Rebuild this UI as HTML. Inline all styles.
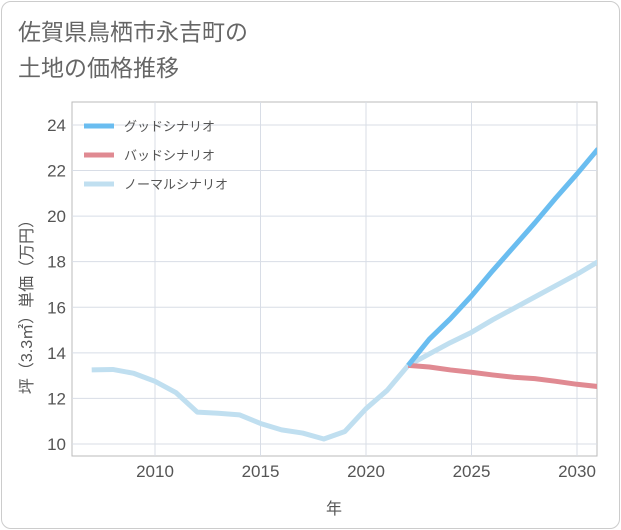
<!DOCTYPE html>
<html><head><meta charset="utf-8">
<style>
body{margin:0;background:#fff;font-family:"Liberation Sans","Noto Sans CJK JP",sans-serif;}
#wrap{position:relative;width:621px;height:530px;}
#frame{position:absolute;left:1px;top:1px;width:617px;height:526px;border:1px solid #ccc;border-radius:10px;}
#title{position:absolute;left:18px;top:14px;font-size:23px;line-height:36px;color:#666;}
</style></head><body>
<div id="wrap">
<div id="frame"></div>
<div id="title">佐賀県鳥栖市永吉町の<br>土地の価格推移</div>
<svg id="chart" width="621" height="530" style="position:absolute;left:0;top:0"></svg>
</div>
<script>
const years=[2007,2008,2009,2010,2011,2012,2013,2014,2015,2016,2017,2018,2019,2020,2021,2022,2023,2024,2025,2026,2027,2028,2029,2030,2031];
const normalValues=[13.25,13.27,13.1,12.75,12.25,11.4,11.35,11.28,10.9,10.62,10.48,10.22,10.55,11.55,12.35,13.45,13.95,14.45,14.9,15.45,15.95,16.45,16.95,17.45,18.0];
const futureYears=[2022,2023,2024,2025,2026,2027,2028,2029,2030,2031];
const goodValues=[13.45,14.6,15.5,16.5,17.6,18.65,19.7,20.8,21.85,22.95];
const badValues=[13.45,13.38,13.25,13.15,13.03,12.93,12.87,12.75,12.62,12.52];
const yTicks=[10,12,14,16,18,20,22,24];
const xTicks=[2010,2015,2020,2025,2030];
const legendLabels=["グッドシナリオ","バッドシナリオ","ノーマルシナリオ"];
const NS="http://www.w3.org/2000/svg";
const svg=document.getElementById('chart');
const L=72,R=597,T=102,B=456;
const x=t=>155+(t-2010)*21.1;
const y=v=>444-(v-10)*22.79;
function mk(tag,attrs,parent){const e=document.createElementNS(NS,tag);for(const k in attrs)e.setAttribute(k,attrs[k]);(parent||svg).appendChild(e);return e;}
const defs=mk('defs',{});
const cp=mk('clipPath',{id:'plotclip'},defs);
mk('rect',{x:L,y:T,width:R-L,height:B-T},cp);
const bg=mk('rect',{x:L,y:T,width:R-L,height:B-T,fill:'#fff',stroke:'#bbb'});


yTicks.forEach(v=>{
 const g=mk('line',{x1:L,x2:R,y1:y(v),y2:y(v),stroke:'#d8dde6'});
 
 
 const t=mk('text',{x:L-6,y:y(v)+6,'text-anchor':'end','font-size':'17',fill:'#555'});
 t.textContent=v;
 
 
});
xTicks.forEach(v=>{
 const g=mk('line',{x1:x(v),x2:x(v),y1:T,y2:B,stroke:'#d8dde6'});
 
 
 const t=mk('text',{x:x(v),y:B+21,'text-anchor':'middle','font-size':'17',fill:'#555'});
 t.textContent=v;
 
 
});
const lg=mk('g',{'clip-path':'url(#plotclip)'});
function line(xs,vs,color,name){
 const p=mk('polyline',{points:xs.map((t,i)=>x(t)+','+y(vs[i])).join(' '),fill:'none',stroke:color,'stroke-width':5,'stroke-linejoin':'round'},lg);
 
 
}
line(years,normalValues,'#c0dff0','normal-scenario-line');
line(futureYears,badValues,'#e08a92','bad-scenario-line');
line(futureYears,goodValues,'#6abdf0','good-scenario-line');
const colors=['#6abdf0','#e08a92','#c0dff0'];
legendLabels.forEach((s,i)=>{
 const yy=126+i*29;
 const l=mk('line',{x1:84,x2:114,y1:yy,y2:yy,stroke:colors[i],'stroke-width':5});
 
 
 const t=mk('text',{x:124,y:yy+5,'font-size':'13',fill:'#555'});
 t.textContent=s;
 
 
});
const xt=mk('text',{x:334,y:514,'text-anchor':'middle','font-size':'16',fill:'#555'});
xt.textContent='年';


const yt=mk('text',{x:0,y:0,'text-anchor':'middle','font-size':'16',fill:'#555',transform:'translate(32,303) rotate(-90)'});
yt.textContent='坪（3.3㎡）単価（万円）';


</script>
</body></html>
